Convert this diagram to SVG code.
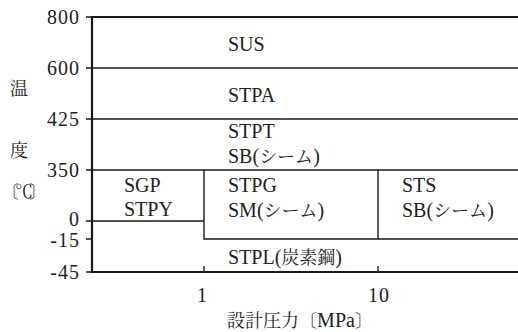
<svg xmlns="http://www.w3.org/2000/svg" width="518" height="332" viewBox="0 0 518 332">
<rect width="518" height="332" fill="#fff"/>
<g id="connectors" fill="none" stroke="#1a1a1a">
<path stroke-width="2.2" d="M92,16 V272 H518"/>
<path stroke-width="2.2" d="M92,17 H518"/>
<path stroke-width="1.4" d="M86,17 H92 M86,68 H518 M86,119 H518 M86,170 H518 M86,221 H204 M204,170 V239 H518 M378,170 V239 M86,239 H92 M86,272 H92 M204,266 V272 M378,266 V272"/>
</g>
<g id="axis-y" fill="#222">
<text x="80" y="24" text-anchor="end" font-family="Liberation Serif" font-size="20" letter-spacing="1">800</text>
<text x="80" y="75" text-anchor="end" font-family="Liberation Serif" font-size="20" letter-spacing="1">600</text>
<text x="80" y="126" text-anchor="end" font-family="Liberation Serif" font-size="20" letter-spacing="1">425</text>
<text x="80" y="177" text-anchor="end" font-family="Liberation Serif" font-size="20" letter-spacing="1">350</text>
<text x="80" y="226" text-anchor="end" font-family="Liberation Serif" font-size="20" letter-spacing="1">0</text>
<text x="80" y="247" text-anchor="end" font-family="Liberation Serif" font-size="20" letter-spacing="1">-15</text>
<text x="80" y="279" text-anchor="end" font-family="Liberation Serif" font-size="20" letter-spacing="1">-45</text>
<text x="19" y="95" text-anchor="middle" font-family="Noto Serif CJK JP" font-size="18">温</text>
<text x="19" y="157" text-anchor="middle" font-family="Noto Serif CJK JP" font-size="18">度</text>
<text x="1" y="198" font-family="Noto Serif CJK JP" font-size="18" letter-spacing="-4">〔℃〕</text>
</g>
<g id="axis-x" fill="#222">
<text x="202" y="302" text-anchor="middle" font-family="Liberation Serif" font-size="20">1</text>
<text x="379" y="302" text-anchor="middle" font-family="Liberation Serif" font-size="20" letter-spacing="1">10</text>
<text x="300" y="327" text-anchor="middle" font-family="Noto Serif CJK JP" font-size="18">設計圧力〔<tspan font-family="Liberation Serif" font-size="20">MPa</tspan>〕</text>
</g>
<g id="sus" fill="#222"><text x="228" y="51" font-family="Liberation Serif" font-size="20">SUS</text></g>
<g id="stpa" fill="#222"><text x="228" y="102" font-family="Liberation Serif" font-size="20">STPA</text></g>
<g id="stpt" fill="#222"><text x="228" y="138" font-family="Liberation Serif" font-size="20">STPT</text><text x="228" y="163" font-family="Liberation Serif" font-size="20">SB(<tspan font-family="Noto Serif CJK JP" font-size="18">シーム</tspan>)</text></g>
<g id="sgp" fill="#222"><text x="124" y="192" font-family="Liberation Serif" font-size="20">SGP</text><text x="124" y="216" font-family="Liberation Serif" font-size="20">STPY</text></g>
<g id="stpg" fill="#222"><text x="228" y="192" font-family="Liberation Serif" font-size="20">STPG</text><text x="228" y="217" font-family="Liberation Serif" font-size="20">SM(<tspan font-family="Noto Serif CJK JP" font-size="18">シーム</tspan>)</text></g>
<g id="sts" fill="#222"><text x="402" y="192" font-family="Liberation Serif" font-size="20">STS</text><text x="402" y="217" font-family="Liberation Serif" font-size="20">SB(<tspan font-family="Noto Serif CJK JP" font-size="18">シーム</tspan>)</text></g>
<g id="stpl" fill="#222"><text x="228" y="264" font-family="Liberation Serif" font-size="20">STPL(<tspan font-family="Noto Serif CJK JP" font-size="18">炭素鋼</tspan>)</text></g>
</svg>
